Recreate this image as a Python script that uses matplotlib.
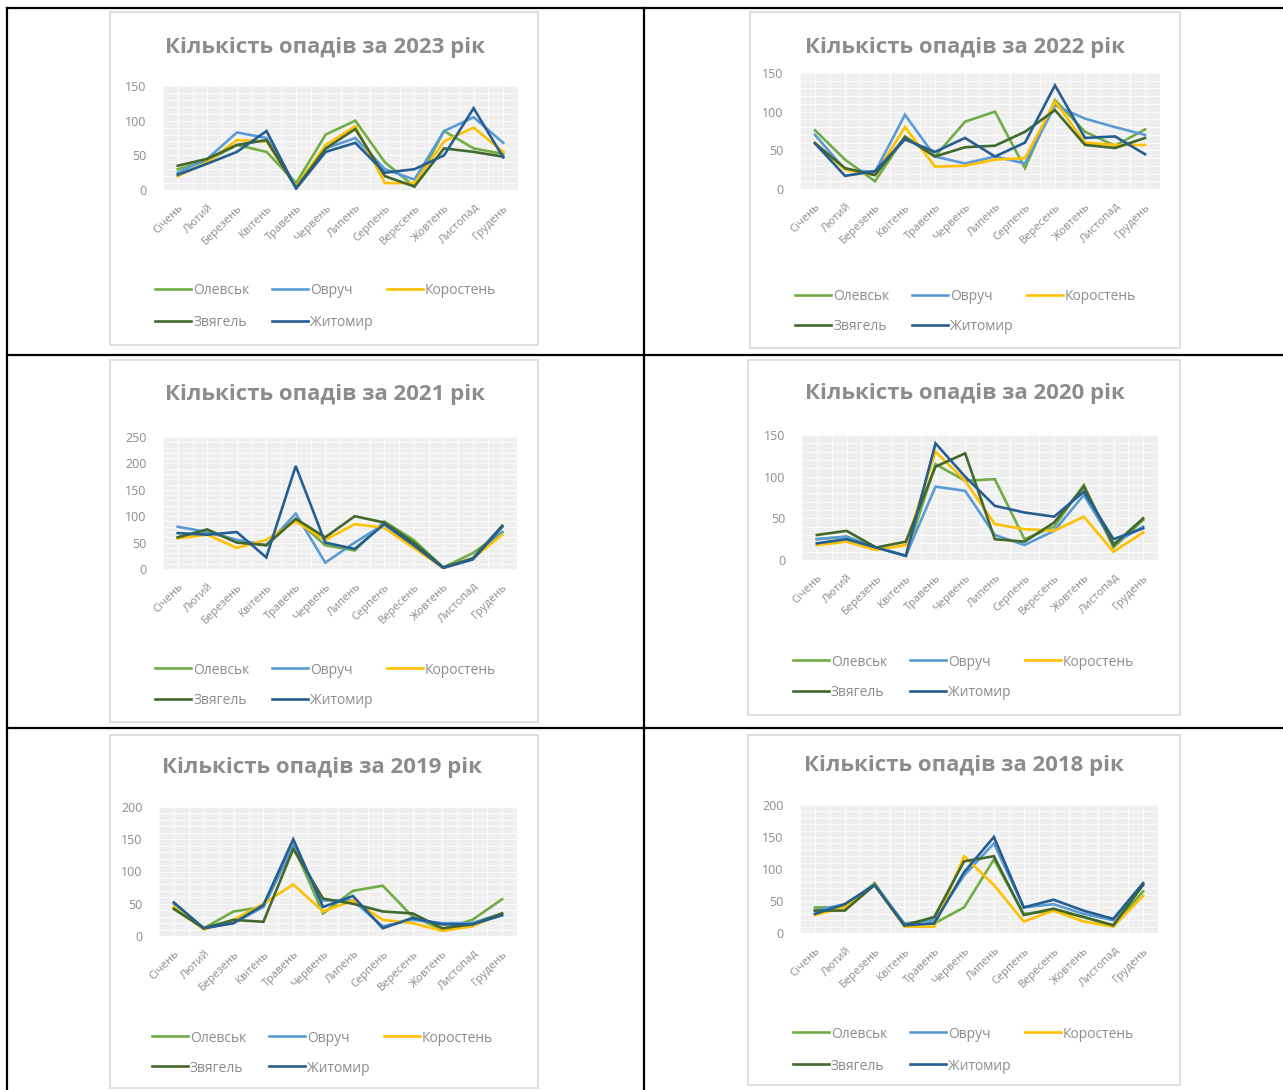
import matplotlib.pyplot as plt
from matplotlib.lines import Line2D
from matplotlib.patches import Rectangle

months = ["Січень", "Лютий", "Березень", "Квітень", "Травень", "Червень",
          "Липень", "Серпень", "Вересень", "Жовтень", "Листопад", "Грудень"]
cities = ["Олевськ", "Овруч", "Коростень", "Звягель", "Житомир"]
city_colors = ["#70AD47", "#5B9BD5", "#FFC000", "#43682B", "#255E91"]

# monthly precipitation (mm), one list per city
rain_2023 = {
    "Олевськ":   [30, 42, 65, 55, 10, 80, 100, 40, 5, 85, 60, 52],
    "Овруч":     [25, 45, 83, 75, 5, 60, 75, 30, 15, 85, 105, 68],
    "Коростень": [20, 40, 72, 70, 5, 65, 92, 10, 10, 70, 90, 55],
    "Звягель":   [35, 45, 65, 72, 3, 60, 88, 20, 5, 60, 55, 48],
    "Житомир":   [22, 38, 55, 85, 2, 55, 68, 25, 30, 50, 118, 47],
}
rain_2022 = {
    "Олевськ":   [76, 38, 10, 68, 42, 87, 100, 27, 115, 74, 56, 77],
    "Овруч":     [70, 25, 22, 96, 42, 33, 42, 33, 108, 91, 80, 70],
    "Коростень": [60, 25, 18, 80, 29, 30, 38, 40, 113, 60, 57, 57],
    "Звягель":   [59, 27, 18, 67, 42, 54, 56, 74, 102, 57, 53, 66],
    "Житомир":   [59, 17, 23, 64, 48, 66, 42, 60, 134, 66, 68, 45],
}
rain_2021 = {
    "Олевськ":   [60, 70, 55, 45, 95, 45, 35, 90, 55, 3, 30, 70],
    "Овруч":     [80, 70, 55, 45, 105, 12, 50, 85, 45, 3, 20, 70],
    "Коростень": [58, 65, 40, 55, 90, 55, 85, 78, 40, 2, 20, 65],
    "Звягель":   [60, 75, 50, 45, 95, 60, 100, 88, 50, 3, 20, 82],
    "Житомир":   [68, 65, 70, 22, 195, 50, 38, 85, 45, 2, 18, 80],
}
rain_2020 = {
    "Олевськ":   [25, 28, 15, 5, 115, 95, 97, 25, 40, 90, 15, 48],
    "Овруч":     [25, 28, 15, 5, 88, 83, 30, 18, 35, 78, 20, 40],
    "Коростень": [18, 22, 12, 18, 130, 95, 43, 37, 35, 52, 10, 33],
    "Звягель":   [30, 35, 15, 22, 112, 128, 25, 22, 45, 88, 18, 50],
    "Житомир":   [20, 25, 15, 5, 140, 100, 65, 57, 52, 82, 25, 38],
}
rain_2019 = {
    "Олевськ":   [42, 12, 38, 45, 140, 35, 70, 78, 30, 10, 25, 57],
    "Овруч":     [50, 12, 20, 45, 140, 55, 55, 15, 25, 20, 20, 35],
    "Коростень": [45, 10, 25, 50, 80, 38, 55, 25, 20, 8, 15, 35],
    "Звягель":   [42, 12, 25, 22, 135, 58, 50, 38, 35, 12, 18, 35],
    "Житомир":   [52, 12, 20, 48, 150, 45, 62, 12, 28, 18, 18, 32],
}
rain_2018 = {
    "Олевськ":   [40, 40, 78, 12, 15, 40, 115, 30, 35, 25, 12, 65],
    "Овруч":     [35, 45, 75, 15, 20, 90, 140, 40, 45, 30, 20, 75],
    "Коростень": [28, 40, 75, 10, 10, 120, 75, 18, 35, 18, 10, 58],
    "Звягель":   [35, 35, 75, 12, 25, 112, 120, 28, 38, 25, 12, 75],
    "Житомир":   [30, 45, 75, 12, 15, 95, 150, 40, 52, 35, 22, 78],
}
years = [2023, 2022, 2021, 2020, 2019, 2018]
yearly = [rain_2023, rain_2022, rain_2021, rain_2020, rain_2019, rain_2018]
y_max = [150, 150, 250, 150, 200, 200]

W, H = 1283, 1090
plt.rcParams["font.family"] = ["Open Sans", "DejaVu Sans"]
fig = plt.figure(figsize=(W / 100, H / 100), dpi=100)


def frac_rect(x0, y0, x1, y1):
    return [x0 / W, 1 - y1 / H, (x1 - x0) / W, (y1 - y0) / H]


# table grid
for yy in [8, 355, 728]:
    fig.add_artist(Line2D([7 / W, 1], [1 - yy / H] * 2, color="black", lw=1.6))
for xx in [7, 644]:
    fig.add_artist(Line2D([xx / W] * 2, [1 - 8 / H, 0], color="black", lw=1.6))

# layout per chart: box, plot area, title position, legend rows/cols
boxes = [(110, 12, 538, 345), (750, 12, 1180, 348), (110, 360, 538, 722),
         (748, 360, 1180, 715), (110, 735, 538, 1088), (748, 735, 1180, 1085)]
plot_areas = [(163, 86, 518, 190), (800, 73, 1160, 189), (163, 437, 517, 569),
              (802, 435, 1158, 560), (159, 807, 517, 936), (800, 805, 1158, 933)]
titles_xy = [(325, 47), (965, 47), (325, 395), (965, 394), (322, 768), (964, 766)]
legend_rows = [(289, 321), (295, 325), (668, 699), (660, 691), (1036, 1066), (1032, 1064)]
legend_x0 = [155, 795, 155, 793, 152, 793]

for i in range(6):
    bx0, by0, bx1, by1 = boxes[i]
    fig.add_artist(Rectangle((bx0 / W, 1 - by1 / H), (bx1 - bx0) / W, (by1 - by0) / H,
                             transform=fig.transFigure, facecolor="white",
                             edgecolor="#d9d9d9", lw=1.2, zorder=-1))
    ax = fig.add_axes(frac_rect(*plot_areas[i]))
    ax.set_facecolor("#efefef")
    data = yearly[i]
    for city, col in zip(cities, city_colors):
        ax.plot(range(12), data[city], color=col, lw=1.9, solid_joinstyle="miter")
    ax.set_xlim(-0.5, 11.5)
    ax.set_ylim(0, y_max[i])
    ax.set_yticks(range(0, y_max[i] + 1, 50))
    ax.set_xticks(range(12))
    ax.set_xticks([k - 0.5 for k in range(13)] + [k for k in range(12)], minor=True)
    ax.set_yticks(range(0, y_max[i] + 1, 10), minor=True)
    ax.grid(True, which="both", color="#fafafa", lw=0.8)
    ax.set_axisbelow(True)
    ax.set_xticklabels(months, rotation=45, ha="right", rotation_mode="anchor",
                       fontsize=8, color="#8c8c8c")
    ax.tick_params(axis="y", labelsize=9, labelcolor="#8c8c8c", length=0, pad=12)
    ax.tick_params(axis="x", length=0, pad=9)
    ax.tick_params(which="minor", length=0)
    for s in ax.spines.values():
        s.set_visible(False)

    tx, ty = titles_xy[i]
    fig.text(tx / W, 1 - ty / H, f"Кількість опадів за {years[i]} рік",
             ha="center", va="center", fontsize=16, fontweight="bold", color="#8c8c8c")

    r1, r2 = legend_rows[i]
    x0 = legend_x0[i]
    slots = [(x0, r1), (x0 + 117, r1), (x0 + 232, r1), (x0, r2), (x0 + 117, r2)]
    for (lx, ly), city, col in zip(slots, cities, city_colors):
        fig.add_artist(Line2D([lx / W, (lx + 36) / W], [1 - ly / H] * 2, color=col, lw=1.9))
        fig.text((lx + 38) / W, 1 - ly / H, city, ha="left", va="center_baseline",
                 fontsize=10, color="#8c8c8c")

fig.savefig("out.png", dpi=100)
